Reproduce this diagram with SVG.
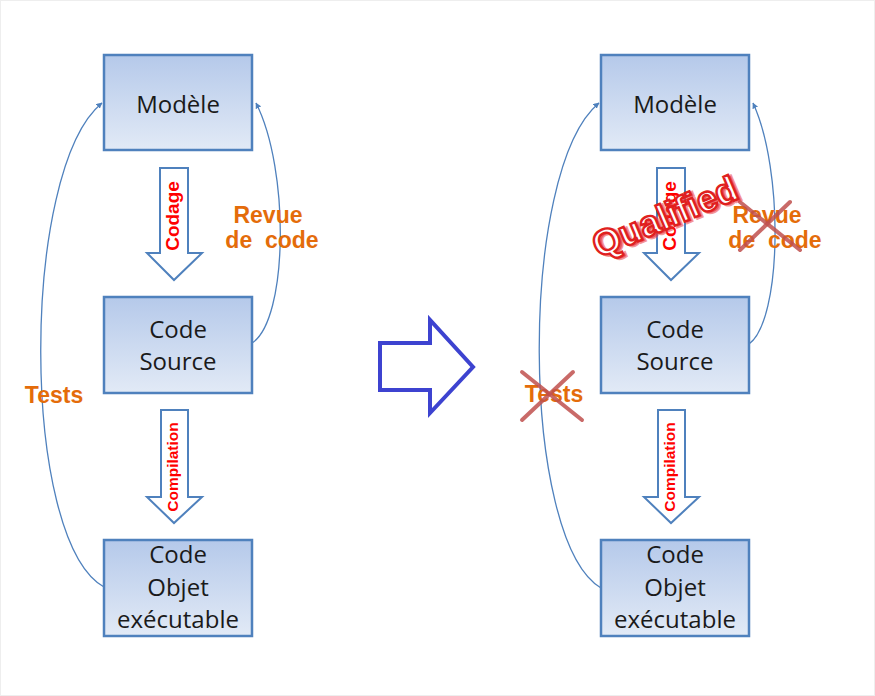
<svg xmlns="http://www.w3.org/2000/svg" width="875" height="696" viewBox="0 0 875 696">
<defs>
<linearGradient id="boxg" x1="0" y1="0" x2="0" y2="1">
<stop offset="0" stop-color="#b5c9ea"/>
<stop offset="1" stop-color="#e2eaf6"/>
</linearGradient>
<marker id="ah" viewBox="0 0 10 10" refX="9" refY="5" markerWidth="6" markerHeight="6" orient="auto" markerUnits="userSpaceOnUse">
<path d="M0,0 L10,5 L0,10 Z" fill="#4f81bd"/>
</marker>
<style>
.box{fill:url(#boxg);stroke:#4f81bd;stroke-width:2.5}
.nt{font-family:"Open Sans","Noto Sans",sans-serif;font-size:24px;fill:#1a1a1a;text-anchor:middle}
.blk{fill:#ffffff;stroke:#4f81bd;stroke-width:2}
.al{font-family:"Liberation Sans",Arial,sans-serif;font-weight:bold;fill:#ff0000;text-anchor:middle}
.lbl{font-family:"Liberation Sans",Arial,sans-serif;font-weight:bold;font-size:23px;fill:#e46c0a;text-anchor:middle;white-space:pre}
.con{fill:none;stroke:#4f81bd;stroke-width:1.3;marker-end:url(#ah)}
.x{stroke:#c0504d;stroke-width:4;stroke-opacity:0.85;stroke-linecap:round}
</style>
</defs>
<rect x="0.5" y="0.5" width="874" height="695" fill="#ffffff" stroke="#eeeeee" stroke-width="1"/>

<g id="connectors">
<path class="con" d="M104,587 C20,540 20,170 102,103"/>
<path class="con" d="M252,343 C288,320 290,170 256,103"/>
<path class="con" d="M601,588 C520,540 518,170 599,103"/>
<path class="con" d="M749,344 C782,320 784,170 753,103"/>
</g>

<g id="left-codage">
<path class="blk" d="M160,168 H188 V253 H202 L174,280 L147,253 H160 Z"/>
<text class="al" font-size="19" transform="translate(179,216) rotate(-90)">Codage</text>
</g>
<g id="left-compilation">
<path class="blk" d="M161,410 H188 V497 H202 L174,523 L147,497 H161 Z"/>
<text class="al" font-size="15.5" transform="translate(177.5,467) rotate(-90)">Compilation</text>
</g>

<g id="left-modele">
<rect class="box" x="104" y="55" width="148" height="95"/>
<text class="nt" x="178" y="113">Modèle</text>
</g>
<g id="left-source">
<rect class="box" x="104" y="297" width="148" height="96"/>
<text class="nt" x="178" y="338">Code</text>
<text class="nt" x="178" y="370">Source</text>
</g>
<g id="left-objet">
<rect class="box" x="104" y="540" width="148" height="96"/>
<text class="nt" x="178" y="563">Code</text>
<text class="nt" x="178" y="596">Objet</text>
<text class="nt" x="178" y="628">exécutable</text>
</g>

<g id="left-labels">
<text class="lbl" x="268" y="223">Revue</text>
<text class="lbl" x="272" y="248">de  code</text>
<text class="lbl" x="54" y="403">Tests</text>
</g>

<g id="big-arrow">
<path d="M380,343 H430 V320 L473,367 L430,413 V390 H380 Z" fill="#ffffff" stroke="#3d43d0" stroke-width="4" stroke-linejoin="miter"/>
</g>

<g id="right-codage">
<path class="blk" d="M657,168 H685 V253 H699 L671,280 L644,253 H657 Z"/>
<text class="al" font-size="19" transform="translate(676,216) rotate(-90)">Codage</text>
</g>
<g id="right-compilation">
<path class="blk" d="M658,410 H685 V497 H699 L671,523 L644,497 H658 Z"/>
<text class="al" font-size="15.5" transform="translate(674.5,467) rotate(-90)">Compilation</text>
</g>

<g id="right-modele">
<rect class="box" x="601" y="55" width="148" height="95"/>
<text class="nt" x="675" y="113">Modèle</text>
</g>
<g id="right-source">
<rect class="box" x="601" y="297" width="148" height="96"/>
<text class="nt" x="675" y="338">Code</text>
<text class="nt" x="675" y="370">Source</text>
</g>
<g id="right-objet">
<rect class="box" x="601" y="540" width="148" height="96"/>
<text class="nt" x="675" y="563">Code</text>
<text class="nt" x="675" y="596">Objet</text>
<text class="nt" x="675" y="628">exécutable</text>
</g>

<g id="right-labels">
<text class="lbl" x="767" y="223">Revue</text>
<text class="lbl" x="775" y="248">de  code</text>
<text class="lbl" x="554" y="402">Tests</text>
<line class="x" x1="740" y1="202" x2="800" y2="250"/>
<line class="x" x1="790" y1="202" x2="740" y2="250"/>
<line class="x" x1="522" y1="372" x2="582" y2="420"/>
<line class="x" x1="573" y1="372" x2="522" y2="420"/>
</g>

<g id="qualified-stamp" transform="translate(665,217) rotate(-23)">
<text x="2" y="14" font-family="Liberation Sans, Arial, sans-serif" font-weight="bold" font-size="36" text-anchor="middle" fill="#e83030" stroke="#e83030" stroke-width="3" stroke-opacity="0.5" fill-opacity="0.6">Qualified</text>
<text x="0" y="12" font-family="Liberation Sans, Arial, sans-serif" font-weight="bold" font-size="36" text-anchor="middle" fill="#ffffff" stroke="#e02020" stroke-width="2.4">Qualified</text>
</g>
</svg>
